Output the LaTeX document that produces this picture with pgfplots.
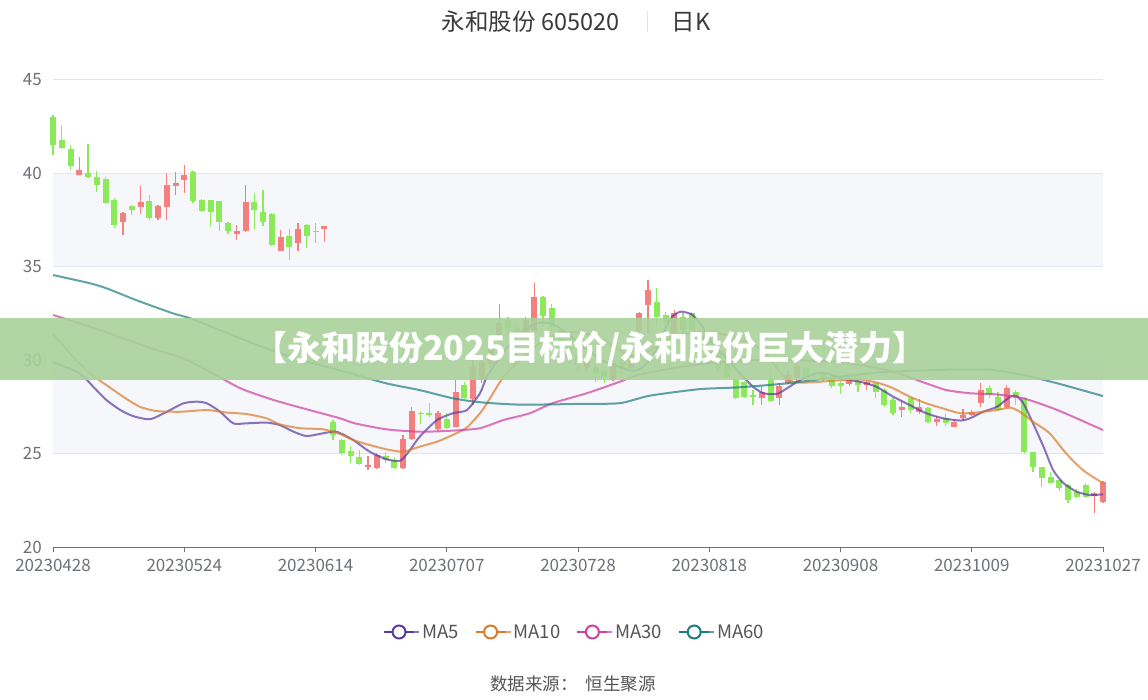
\documentclass[border=0pt]{standalone}
\usepackage{fontspec}
\setmainfont{Noto Sans CJK SC}
\usepackage{pgfplots}
\pgfplotsset{compat=1.18}
\usepackage{pgfplotstable}
\definecolor{cred}{HTML}{F47F7F}
\definecolor{cgreen}{HTML}{8CE95A}
\definecolor{ma5}{HTML}{5A3A9E}
\definecolor{ma10}{HTML}{DC7A2A}
\definecolor{ma30}{HTML}{CF3F9E}
\definecolor{ma60}{HTML}{1E7C80}
\definecolor{axisgray}{HTML}{6E7079}
\definecolor{gridc}{HTML}{E0E6F1}
\definecolor{bandc}{HTML}{F5F7FB}
\definecolor{bannerc}{HTML}{A9D19A}
\definecolor{textgray}{HTML}{555555}
\definecolor{titlec}{HTML}{3A3A3A}

% down (green) candles: index open high low close
\pgfplotstableread{
i O H L C
0 43.0 43.1 41.0 41.5
1 41.8 42.6 41.3 41.35
2 41.3 41.5 40.2 40.4
4 40.0 41.6 39.75 39.8
5 39.8 40.15 39.0 39.4
6 39.7 39.8 38.35 38.4
7 38.6 38.7 37.1 37.25
9 38.25 38.3 37.75 38.05
11 38.5 38.85 37.5 37.6
16 40.1 40.15 38.4 38.5
17 38.55 38.65 37.95 38.0
18 38.55 38.6 37.15 37.95
19 38.5 38.5 36.9 37.4
20 37.35 37.4 36.75 36.9
23 38.45 38.95 37.05 38.05
24 37.95 39.1 37.2 37.4
25 37.85 37.9 36.1 36.15
27 36.65 37.05 35.35 36.05
29 37.25 37.3 36.0 36.65
30 36.92 37.35 36.25 36.86
32 26.7 26.8 25.75 26.0
33 25.75 25.8 24.9 25.05
34 25.15 25.4 24.5 24.87
35 24.8 25.2 24.4 24.45
38 24.85 25.1 24.5 24.65
39 24.65 24.8 24.15 24.25
42 27.2 27.3 26.6 27.1
43 27.15 27.7 26.95 27.05
45 26.85 27.2 26.3 26.35
47 28.65 28.85 27.9 27.95
52 32.15 32.3 31.4 31.7
53 31.7 31.9 31.2 31.35
56 33.4 33.45 31.8 32.35
57 32.8 33.0 31.6 31.8
58 31.6 31.8 30.5 30.7
59 30.7 30.9 29.8 30.3
60 30.2 30.35 29.5 29.75
62 29.65 29.8 28.85 29.3
63 29.4 29.5 28.8 29.12
65 29.9 30.1 29.3 29.6
69 33.14 33.85 31.8 32.33
70 32.4 32.6 31.7 32.0
72 32.3 32.5 31.4 31.6
73 32.5 32.6 31.4 31.6
75 31.2 31.3 30.0 30.2
76 30.3 30.5 29.4 29.6
77 30.0 30.1 29.0 29.1
78 28.95 29.0 27.9 27.95
79 28.85 28.9 27.95 28.05
80 28.15 28.4 27.6 28.05
82 28.95 29.5 27.75 27.8
86 29.6 29.7 29.0 29.1
87 29.3 29.5 29.0 29.2
88 29.3 29.4 28.9 29.0
89 29.1 29.2 28.5 28.6
90 28.8 28.9 28.2 28.6
92 28.9 29.0 28.3 28.65
94 28.76 28.8 28.0 28.32
95 28.4 28.5 27.5 27.6
96 27.87 27.95 27.05 27.16
98 27.96 28.05 27.2 27.33
100 27.42 27.5 26.65 26.71
102 26.89 27.1 26.5 26.66
107 28.5 28.67 27.96 28.14
108 28.05 28.3 27.3 27.35
110 28.32 28.4 27.6 27.96
111 27.96 28.05 25.0 25.1
112 25.1 25.1 24.03 24.3
113 24.3 24.3 23.2 23.67
114 23.76 24.03 23.35 23.41
115 23.58 23.6 22.98 23.14
116 23.32 23.35 22.35 22.52
117 22.96 23.1 22.6 22.7
118 23.32 23.4 22.6 22.7
}\downtab

% up (red) candles: index open high low close
\pgfplotstableread{
i O H L C
3 39.9 40.9 39.9 40.2
8 37.4 37.95 36.7 37.9
10 38.2 39.35 37.8 38.45
12 37.6 38.3 37.5 38.25
13 38.2 40.0 37.5 39.4
14 39.35 40.1 38.85 39.5
15 39.65 40.45 38.95 39.9
21 36.75 37.25 36.45 36.92
22 36.9 39.4 36.85 38.45
26 35.85 36.95 35.85 36.6
28 36.25 37.35 35.85 37.05
31 37.05 37.2 36.35 37.2
36 24.3 24.85 24.1 24.4
37 24.25 25.05 24.2 24.95
40 24.25 26.0 24.2 25.8
41 25.8 27.5 25.75 27.3
44 26.3 27.3 26.2 27.15
46 26.45 28.95 26.4 28.3
48 27.9 30.1 27.6 29.65
49 28.95 30.3 28.8 29.9
50 29.8 31.2 29.6 30.8
51 31.2 33.0 31.0 32.0
54 31.25 32.3 31.1 32.15
55 31.55 34.15 31.4 33.4
61 29.6 30.3 29.4 30.0
64 28.95 30.1 28.9 29.85
66 29.6 30.5 29.4 30.0
67 31.55 32.6 31.2 32.5
68 32.96 34.3 31.44 33.76
71 31.44 32.7 31.3 32.5
74 30.9 31.5 30.8 31.3
81 27.95 28.6 27.6 28.3
83 27.95 28.8 27.6 28.6
84 28.8 29.4 28.7 29.2
85 29.05 30.0 28.9 29.7
91 28.75 29.3 28.6 29.05
93 28.67 28.9 28.4 28.85
97 27.33 27.8 26.95 27.51
99 27.24 27.9 27.1 27.51
101 26.7 27.0 26.5 26.85
103 26.45 26.8 26.4 26.71
104 26.9 27.4 26.8 27.05
105 27.07 27.35 27.0 27.24
106 27.7 28.76 27.51 28.4
109 27.5 28.67 27.45 28.5
119 22.75 22.95 21.8 22.9
120 22.42 23.55 22.35 23.49
}\uptab

\begin{document}
\begin{tikzpicture}[x=1pt,y=1pt]
\begin{axis}[
  at={(53pt,152pt)}, anchor=south west,
  width=1050pt, height=467pt, scale only axis,
  clip=false,
  xmin=0, xmax=120, ymin=20, ymax=45,
  axis x line*=bottom, axis y line*=left,
  y axis line style={draw=none},
  x axis line style={draw=axisgray, line width=1pt},
  xtick={0,15,...,120},
  xticklabels={20230428,20230524,20230614,20230707,20230728,20230818,20230908,20231009,20231027},
  ytick={20,25,...,45},
  tick align=outside,
  major tick length=5pt,
  x tick style={draw=axisgray, line width=1pt},
  y tick style={draw=none},
  ymajorgrids, grid style={draw=gridc, line width=1pt},
  /pgf/number format/assume math mode=true,
  xticklabel style={font=\fontsize{17}{17}\selectfont, text=axisgray, inner sep=0pt, anchor=center, yshift=-13pt},
  yticklabel style={font=\fontsize{17}{17}\selectfont, text=axisgray, inner sep=0pt, anchor=east, xshift=-6pt},
  legend style={at={(0.4967,-0.182)}, anchor=center, draw=none, fill=none,
    legend columns=4, font=\fontsize{18.5}{18.5}\selectfont, text=textgray,
    /tikz/every even column/.append style={column sep=14pt}},
  legend image code/.code={
    \path (0pt,0pt) -- (35pt,0pt);
    \draw[#1, draw opacity=1, line width=2pt] (0pt,0pt) -- (30pt,0pt);
    \draw[#1, draw opacity=1, fill=white, line width=2pt] (15pt,0pt) circle (6.5pt);},
]
% background bands (decoration)
\fill[bandc] (axis cs:0,25) rectangle (axis cs:120,30);
\fill[bandc] (axis cs:0,35) rectangle (axis cs:120,40);
\draw[gridc, line width=1pt] (axis cs:0,25) -- (axis cs:120,25) (axis cs:0,30) -- (axis cs:120,30) (axis cs:0,35) -- (axis cs:120,35) (axis cs:0,40) -- (axis cs:120,40);

% wicks
\addplot[draw=none, mark=none, forget plot, error bars/.cd, y dir=plus, y explicit, error mark=none,
  error bar style={draw=cgreen, line width=1.1pt, solid}]
  table[x=i, y=L, y error plus expr={\thisrow{H}-\thisrow{L}}] {\downtab};
\addplot[draw=none, mark=none, forget plot, error bars/.cd, y dir=plus, y explicit, error mark=none,
  error bar style={draw=cred, line width=1.1pt, solid}]
  table[x=i, y=L, y error plus expr={\thisrow{H}-\thisrow{L}}] {\uptab};
% bodies
\addplot[draw=none, mark=none, forget plot, error bars/.cd, y dir=plus, y explicit, error mark=none,
  error bar style={draw=cgreen, line width=6pt, solid}]
  table[x=i, y=C, y error plus expr={max(\thisrow{O}-\thisrow{C},0.07)}] {\downtab};
\addplot[draw=none, mark=none, forget plot, error bars/.cd, y dir=plus, y explicit, error mark=none,
  error bar style={draw=cred, line width=6pt, solid}]
  table[x=i, y=O, y error plus expr={max(\thisrow{C}-\thisrow{O},0.07)}] {\uptab};

% moving averages
\addplot[ma5, draw opacity=0.7, line width=2pt, smooth, tension=0.4] coordinates {
(0,29.9) (2.3,29.47) (3.5,29.12) (4.6,28.58) (6.1,27.87) (7.7,27.33) (9.2,27.0) (11.1,26.84) (13.0,27.24) (14.9,27.69) (16.4,27.78) (17.6,27.69) (19.1,27.24) (20.6,26.62) (22.1,26.62) (24.4,26.66) (25.9,26.53) (27.5,26.17) (29.0,25.94) (30.9,26.09) (32.4,26.17) (34.3,25.73) (36.2,25.1) (38.1,24.7) (39.7,24.62) (40.8,25.19) (41.9,25.9) (43.9,26.8) (45.7,27.16) (47.3,27.33) (48.8,28.23) (49.6,29.12) (51.5,30.46) (53.4,31.44) (55.3,31.98) (56.8,31.98) (57.9,31.71) (59.1,31.3) (61.0,30.6) (62.9,29.95) (64.4,29.7) (65.9,29.45) (66.7,29.45) (67.8,29.8) (69.0,30.6) (70.0,31.7) (70.8,32.35) (71.8,32.6) (73.1,32.42) (74.2,31.8) (75.3,30.9) (76.8,30.19) (78.5,29.3) (80.0,28.58) (81.2,28.23) (82.7,28.19) (83.9,28.5) (85.4,28.94) (87.3,29.3) (88.8,29.25) (90.3,28.98) (92.2,28.85) (94.1,28.58) (96.0,28.05) (97.9,27.6) (99.8,27.16) (101.7,26.89) (103.7,26.77) (104.8,26.89) (106.3,27.24) (107.9,27.51) (109.4,28.05) (110.1,28.08) (110.9,27.69) (112.0,26.62) (113.2,25.37) (114.3,24.12) (115.5,23.41) (117.0,22.96) (118.5,22.78) (120,22.82)};
\addlegendentry{MA5}
\addplot[ma10, draw opacity=0.7, line width=2pt, smooth, tension=0.4] coordinates {
(0,31.4) (2.3,30.19) (4.2,29.3) (6.1,28.67) (8.0,28.05) (9.9,27.51) (11.8,27.28) (14.5,27.24) (17.6,27.33) (19.8,27.2) (22.1,27.12) (24.4,26.89) (25.9,26.57) (28.2,26.36) (30.9,26.3) (32.8,26.05) (34.3,25.73) (36.2,25.46) (38.1,25.23) (40.0,25.1) (41.9,25.37) (43.9,25.64) (45.7,26.0) (47.3,26.4) (48.8,27.16) (49.6,27.7) (51.5,29.12) (53.4,30.0) (55.3,30.8) (57.2,31.3) (59.1,31.5) (61.0,31.4) (62.9,31.1) (64.8,30.5) (66.5,30.2) (68.2,30.5) (70.0,31.1) (72.0,31.4) (74.0,31.5) (76.5,31.4) (78.5,31.1) (80.0,30.85) (81.2,30.5) (82.4,29.8) (83.6,29.1) (85.0,28.8) (87.7,28.85) (90.3,28.94) (92.2,28.98) (94.5,28.76) (96.0,28.5) (97.9,28.05) (99.8,27.69) (101.7,27.42) (103.7,27.16) (105.6,27.2) (107.8,27.33) (109.4,27.46) (110.5,27.24) (112.0,26.71) (113.9,26.09) (115.8,25.0) (117.7,24.12) (120,23.41)};
\addlegendentry{MA10}
\addplot[ma30, draw opacity=0.7, line width=2pt, smooth, tension=0.4] coordinates {
(0,32.42) (4.2,31.8) (8.0,31.17) (11.8,30.55) (14.9,30.1) (17.6,29.47) (21.4,28.5) (25.2,27.87) (29.0,27.37) (32.8,26.89) (34.5,26.62) (38.1,26.3) (41.9,26.17) (45.7,26.23) (48.8,26.36) (51.5,26.8) (54.5,27.16) (57.1,27.7) (61.0,28.23) (64.8,28.85) (66.8,29.2) (70.6,29.55) (75.0,29.85) (80.0,30.0) (85.0,30.0) (90.0,29.9) (92.2,29.74) (96.0,29.39) (99.8,28.76) (102.1,28.4) (104.8,28.23) (107.8,28.17) (110.9,27.96) (114.8,27.33) (120,26.26)};
\addlegendentry{MA30}
\addplot[ma60, draw opacity=0.7, line width=2pt, smooth, tension=0.4] coordinates {
(0,34.56) (4.2,34.12) (6.1,33.85) (9.6,33.2) (13.7,32.51) (15.7,32.24) (19.5,31.53) (23.3,30.82) (27.1,30.19) (32.8,29.45) (38.1,28.76) (41.9,28.4) (45.7,27.96) (48.8,27.75) (53.4,27.62) (60.2,27.66) (64.8,27.7) (68.2,28.1) (73.9,28.45) (78.5,28.55) (83.9,28.76) (87.7,28.98) (91.4,29.2) (94.5,29.35) (99.1,29.45) (103.7,29.5) (107.4,29.47) (110.9,29.2) (114.8,28.76) (120,28.08)};
\addlegendentry{MA60}
\end{axis}
% banner overlay
\fill[bannerc, fill opacity=0.9] (0,319) rectangle (1148,381);
\node[text=white, font=\fontsize{34}{34}\selectfont\bfseries] at (590,350) {【永和股份2025目标价/永和股份巨大潜力】};
% title
\node[text=titlec, font=\fontsize{23.5}{23.5}\selectfont, anchor=east] at (623,677) {永和股份 605020};
\draw[gridc, line width=1pt] (647,667) -- (647,688);
\node[text=titlec, font=\fontsize{23.5}{23.5}\selectfont, anchor=west] at (668,677) {日K};
% source
\node[text=textgray, font=\fontsize{17.5}{17.5}\selectfont] at (573,15) {数据来源：\ \ 恒生聚源};
\path (0,0) rectangle (1148,699);
\end{tikzpicture}
\end{document}
